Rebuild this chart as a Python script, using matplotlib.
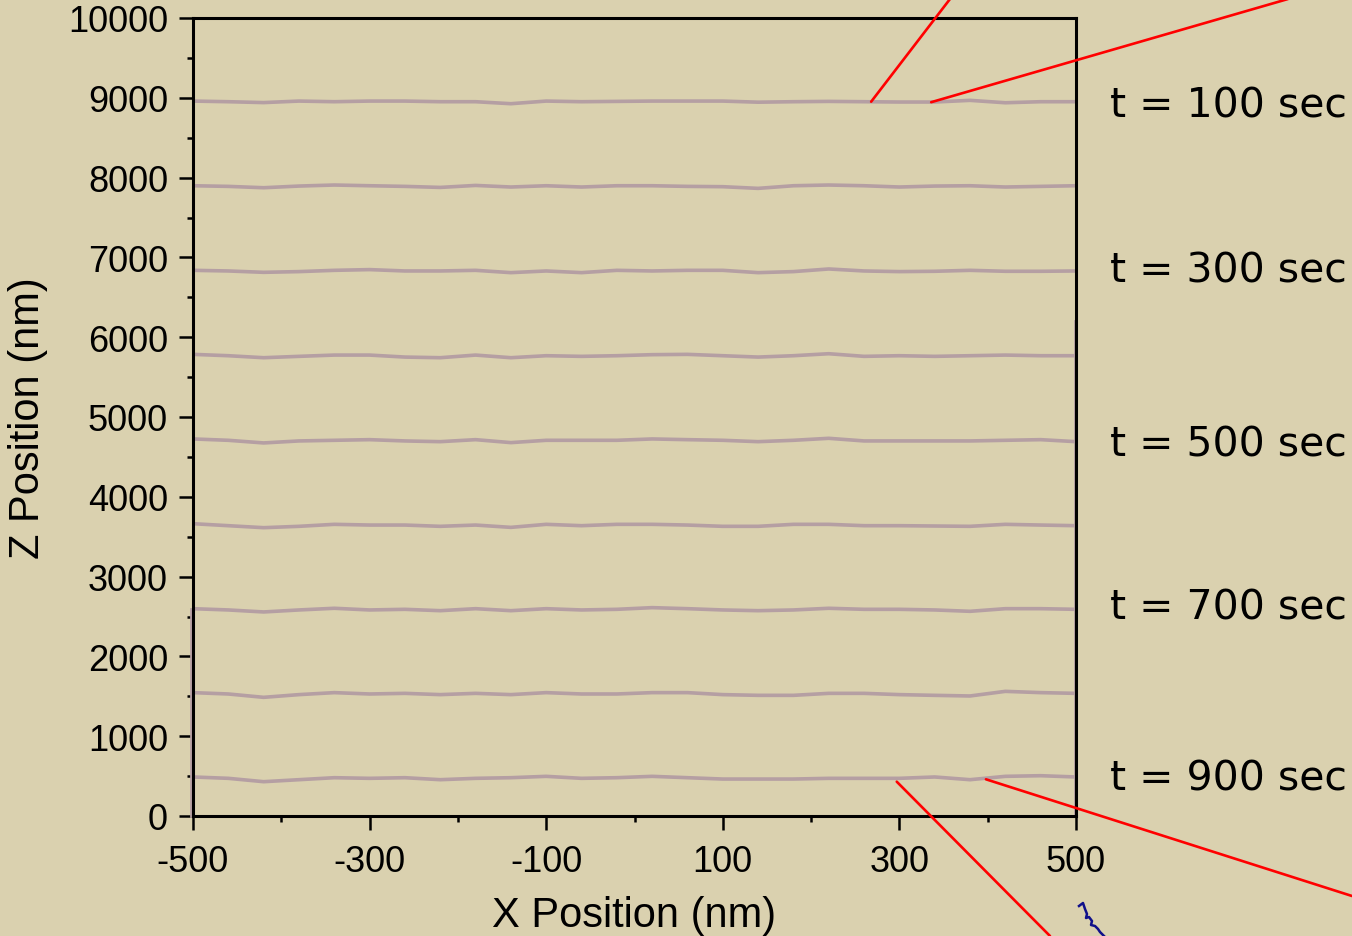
import matplotlib
matplotlib.use("Agg")
import matplotlib.pyplot as plt
import matplotlib.transforms as mtransforms
from matplotlib.lines import Line2D
from matplotlib.patches import ConnectionPatch
from matplotlib.ticker import MultipleLocator, FixedLocator

# ---------------- data ----------------
x_pos = [-500, -460, -420, -380, -340, -300, -260, -220, -180, -140, -100, -60, -20,
         20, 60, 100, 140, 180, 220, 260, 300, 340, 380, 420, 460, 500]

z_t100 = [8959, 8951, 8940, 8959, 8951, 8959, 8959, 8951, 8951, 8926, 8959, 8951, 8955,
          8959, 8959, 8959, 8945, 8951, 8955, 8951, 8947, 8947, 8968, 8938, 8951, 8951]
z_t200 = [7898, 7890, 7873, 7894, 7907, 7898, 7890, 7877, 7902, 7882, 7898, 7882, 7898,
          7898, 7890, 7886, 7865, 7898, 7907, 7898, 7882, 7894, 7898, 7882, 7890, 7898]
z_t300 = [6838, 6830, 6813, 6822, 6838, 6847, 6830, 6830, 6838, 6809, 6830, 6809, 6838,
          6830, 6838, 6838, 6809, 6822, 6855, 6830, 6822, 6826, 6838, 6826, 6826, 6830]
z_t400 = [5785, 5768, 5743, 5760, 5776, 5776, 5751, 5743, 5776, 5743, 5768, 5760, 5768,
          5781, 5785, 5768, 5751, 5768, 5793, 5760, 5768, 5760, 5768, 5776, 5768, 5768]
z_t500 = [4725, 4708, 4675, 4700, 4708, 4716, 4700, 4691, 4716, 4679, 4708, 4708, 4708,
          4725, 4716, 4708, 4691, 4708, 4733, 4700, 4700, 4700, 4700, 4708, 4716, 4691]
z_t600 = [3663, 3638, 3613, 3630, 3655, 3646, 3646, 3630, 3646, 3617, 3655, 3638, 3655,
          3655, 3646, 3630, 3630, 3655, 3655, 3638, 3638, 3634, 3630, 3655, 3646, 3638]
z_t700 = [2598, 2582, 2557, 2582, 2603, 2582, 2590, 2573, 2598, 2573, 2598, 2582, 2590,
          2611, 2598, 2582, 2573, 2582, 2603, 2590, 2590, 2582, 2565, 2598, 2598, 2590]
z_t800 = [1546, 1529, 1487, 1521, 1546, 1529, 1537, 1521, 1537, 1521, 1546, 1529, 1529,
          1546, 1546, 1521, 1512, 1512, 1537, 1537, 1521, 1512, 1504, 1562, 1546, 1537]
z_t900 = [489, 472, 430, 455, 480, 472, 480, 455, 472, 480, 497, 472, 480,
          497, 480, 463, 463, 463, 472, 472, 472, 489, 455, 497, 505, 489]

profiles = [z_t100, z_t200, z_t300, z_t400, z_t500, z_t600, z_t700, z_t800, z_t900]

# edge walls (x, z extents)
left_wall_x = [-502, -502]
left_wall_z = [0, 2590]
right_wall_x = [499, 499]
right_wall_z = [0, 6200]

label_times = ["t = 100 sec", "t = 300 sec", "t = 500 sec", "t = 700 sec", "t = 900 sec"]
label_z = [8900, 6840, 4650, 2610, 470]

x_ticks = [-500, -300, -100, 100, 300, 500]
y_ticks = [0, 1000, 2000, 3000, 4000, 5000, 6000, 7000, 8000, 9000, 10000]

# red pointer lines: (data x, data z) -> (figure fraction x, y)
pointers = [((268, 8951), (950 / 1352, 1.0)),
            ((336, 8945), (1288 / 1352, 1.0)),
            ((297, 430), (1050 / 1352, 0.0)),
            ((398, 460), (1.0, 1 - 897 / 937))]

# small hand-drawn squiggle (figure pixels)
squig_x = [1079, 1083, 1085, 1087, 1086, 1089, 1092, 1091, 1095, 1098, 1100, 1104]
squig_y = [907, 904, 910, 915, 919, 918, 922, 926, 927, 930, 933, 937]

# ---------------- style ----------------
W, H = 1352, 937
bg = "#dad1af"
line_col = "#b59fa3"

fig = plt.figure(figsize=(W / 100, H / 100), dpi=100, facecolor=bg)
ax = fig.add_axes([193 / W, 1 - 817 / H, (1076 - 193) / W, (817 - 19) / H])
ax.set_facecolor(bg)

for z in profiles:
    ax.plot(x_pos, z, color=line_col, lw=2.6, solid_capstyle="butt", zorder=2)
ax.plot(left_wall_x, left_wall_z, color=line_col, lw=2.0, zorder=2, clip_on=False)
ax.plot(right_wall_x, right_wall_z, color=line_col, lw=2.0, zorder=2, clip_on=False)

ax.set_xlim(-500, 500)
ax.set_ylim(0, 10000)
ax.xaxis.set_major_locator(FixedLocator(x_ticks))
ax.xaxis.set_minor_locator(FixedLocator([-400, -200, 0, 200, 400]))
ax.yaxis.set_major_locator(FixedLocator(y_ticks))
ax.yaxis.set_minor_locator(MultipleLocator(500))
ax.set_xticklabels([str(v) for v in x_ticks])
ax.set_yticklabels([str(v) for v in y_ticks])

for lab in ax.get_xticklabels() + ax.get_yticklabels():
    lab.set_fontfamily("Liberation Sans")
    lab.set_fontsize(26)

ax.tick_params(which="major", direction="out", length=10, width=1.8, color="black")
ax.tick_params(which="minor", direction="out", length=4.5, width=1.8, color="black")
ax.tick_params(axis="x", which="major", pad=10)
ax.tick_params(axis="y", which="major", pad=8)
for sp in ax.spines.values():
    sp.set_linewidth(2.2)
    sp.set_color("black")
    sp.set_zorder(3)

ax.set_xlabel("X Position (nm)", fontfamily="Liberation Sans", fontsize=30, labelpad=12)
ax.set_ylabel("Z Position (nm)", fontfamily="Liberation Sans", fontsize=30, labelpad=14)

# time labels on the right
trans = mtransforms.blended_transform_factory(ax.transAxes, ax.transData)
for txt, z in zip(label_times, label_z):
    ax.text((1110 - 193) / (1076 - 193), z, txt, transform=trans, ha="left", va="center",
            fontfamily="DejaVu Sans", fontsize=29.5, color="black", clip_on=False)

# red pointer lines
for (xa, xb) in pointers:
    cp = ConnectionPatch(xyA=xa, coordsA=ax.transData, xyB=xb, coordsB=fig.transFigure,
                         color="#ff0000", lw=1.9, zorder=5)
    fig.add_artist(cp)

# squiggle
fig.add_artist(Line2D([v / W for v in squig_x], [1 - v / H for v in squig_y],
                      transform=fig.transFigure, color="#10108a", lw=1.8))

fig.savefig("out.png", dpi=100, facecolor=bg)
